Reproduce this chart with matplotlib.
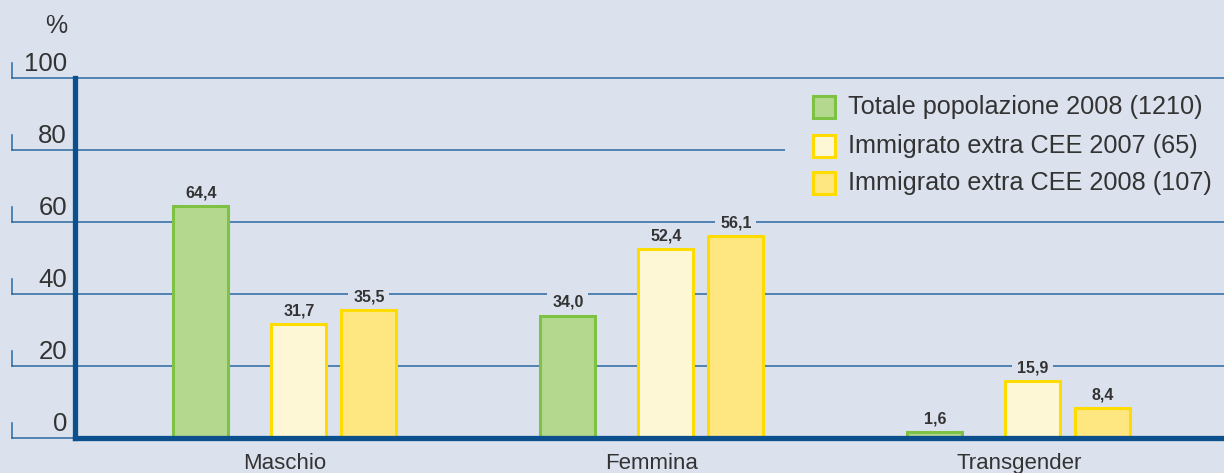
import numpy as np
import matplotlib
matplotlib.use('Agg')
import matplotlib.pyplot as plt
import matplotlib.patches as patches
import matplotlib.transforms as mtransforms

# Daten
categories = ['Maschio', 'Femmina', 'Transgender']
series_labels = ['Totale popolazione 2008 (1210)',
                 'Immigrato extra CEE 2007 (65)',
                 'Immigrato extra CEE 2008 (107)']
totale_2008 = [64.4, 34.0, 1.6]
immigrati_2007 = [31.7, 52.4, 15.9]
immigrati_2008 = [35.5, 56.1, 8.4]
y_ticks = [0, 20, 40, 60, 80, 100]

# Stile
BG = '#dbe2ee'
GRID = '#2a68a2'
SPINE = '#0b4f8c'
TEXT = '#333333'
FILLS = ['#b5d88f', '#fdf7d6', '#fee680']
EDGES = ['#7dc242', '#ffdc00', '#ffdc00']
OFFSETS = [-0.229, 0.038, 0.229]
BAR_W = 0.150
NUM_FONT = ['Liberation Sans', 'DejaVu Sans']
LIGHT_FONT = ['Liberation Sans', 'DejaVu Sans']

W, H = 1224, 473
fig = plt.figure(figsize=(W / 100, H / 100), dpi=100, facecolor=BG)
ax = fig.add_axes([75 / W, 35 / H, 1 - 75 / W, 360 / H])
ax.set_facecolor(BG)
ax.set_xlim(-0.572, 2.559)
ax.set_ylim(0, 100)

# Gitterlinien, nach links herausgezogen, mit kleinem Haken
blend = mtransforms.blended_transform_factory(ax.transAxes, ax.transData)
x_left = (12 - 75) / (W - 75)
for t in y_ticks:
    ax.plot([x_left, 1.0], [t, t], transform=blend, color=GRID, lw=1.1,
            clip_on=False, zorder=1)
    ax.plot([x_left, x_left], [t, t + 4.2], transform=blend, color=GRID,
            lw=1.1, clip_on=False, zorder=1)
    ax.text(-0.007, t + 0.6, str(t), transform=blend, ha='right', va='bottom',
            fontsize=18.5, color=TEXT, family=LIGHT_FONT, clip_on=False)
ax.text(56 / W, 1 - 26 / H, '%', transform=fig.transFigure, ha='center',
        va='center', fontsize=18, color=TEXT, family=LIGHT_FONT)

# Balken
x = np.arange(len(categories))
series = [totale_2008, immigrati_2007, immigrati_2008]
for vals, off, fc, ec in zip(series, OFFSETS, FILLS, EDGES):
    ax.bar(x + off, vals, width=BAR_W, color=fc, edgecolor=ec, linewidth=2.2,
           zorder=3)
    for xi, v in zip(x + off, vals):
        ax.annotate(f'{v:.1f}'.replace('.', ','), (xi, v), xytext=(0, 9.5),
                    textcoords='offset points', ha='center', va='center',
                    fontsize=11.5, fontweight='bold', color=TEXT,
                    family=NUM_FONT, zorder=4,
                    bbox=dict(boxstyle='square,pad=0.3', fc=BG, ec='none'))

# Achsen
for s in ['top', 'right']:
    ax.spines[s].set_visible(False)
for s in ['left', 'bottom']:
    ax.spines[s].set_color(SPINE)
    ax.spines[s].set_linewidth(3.8)
    ax.spines[s].set_zorder(5)
ax.set_yticks([])
ax.set_xticks(x)
ax.set_xticklabels(categories, fontsize=16, color=TEXT, family=LIGHT_FONT)
ax.tick_params(axis='x', length=0, pad=11)

# Legende
leg_bg = patches.Rectangle((785 / W, 1 - 205 / H), (W - 785) / W, 120 / H,
                           transform=fig.transFigure, fc=BG, ec='none',
                           zorder=6)
fig.patches.append(leg_bg)
row_y = [107, 146, 183]
for lab, fc, ec, ry in zip(series_labels, FILLS, EDGES, row_y):
    sq = patches.Rectangle((813 / W, 1 - (ry + 11) / H), 22 / W, 22 / H,
                           transform=fig.transFigure, fc=fc, ec=ec, lw=2.2,
                           zorder=7)
    fig.patches.append(sq)
    fig.text(848 / W, 1 - ry / H, lab, ha='left', va='center', fontsize=18.2,
             color=TEXT, family=LIGHT_FONT, zorder=8)

plt.savefig('out.png', dpi=100, facecolor=BG)
